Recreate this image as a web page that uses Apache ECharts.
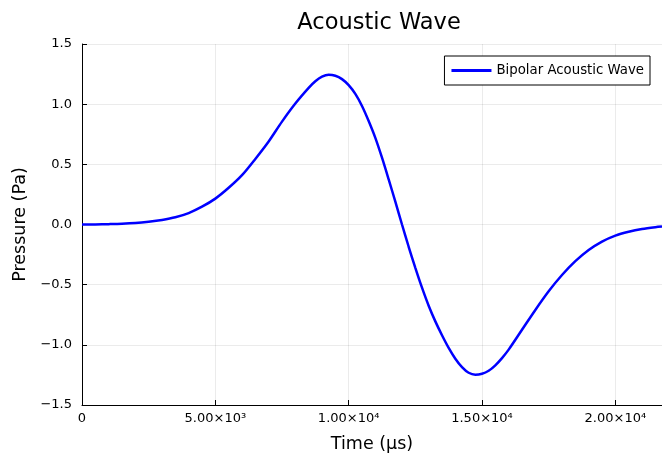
<!DOCTYPE html>
<html>
<head>
<meta charset="utf-8">
<script src="https://cdn.jsdelivr.net/npm/echarts@6/dist/echarts.min.js"></script>
<style>
html,body{margin:0;padding:0;background:#fff;}
#chart{width:662px;height:455px;}
</style>
</head>
<body>
<div id="chart"></div>
<script>
// Time (µs) samples
var times = [0, 500, 1000, 1500, 2000, 2500, 3000, 3500, 4000, 4500, 5000, 5500, 6000, 6500, 7000, 7500, 8000, 8500, 8750, 9000, 9250, 9500, 9750, 10000, 10250, 10500, 10750, 11000, 11250, 11500, 11750, 12000, 12250, 12500, 12750, 13000, 13250, 13500, 13750, 14000, 14250, 14500, 14750, 15000, 15250, 15500, 15750, 16000, 16500, 17000, 17500, 18000, 18500, 19000, 19500, 20000, 20500, 21000, 21500, 21750];
// Pressure (Pa) values
var pressure = [0, 0.001, 0.003, 0.006, 0.012, 0.023, 0.038, 0.06, 0.095, 0.148, 0.215, 0.305, 0.41, 0.545, 0.69, 0.855, 1.005, 1.135, 1.19, 1.228, 1.244, 1.236, 1.208, 1.158, 1.085, 0.985, 0.86, 0.72, 0.555, 0.375, 0.19, 0.0, -0.185, -0.36, -0.525, -0.675, -0.805, -0.92, -1.025, -1.115, -1.185, -1.232, -1.248, -1.24, -1.215, -1.17, -1.11, -1.04, -0.875, -0.71, -0.555, -0.42, -0.305, -0.212, -0.142, -0.092, -0.06, -0.037, -0.022, -0.017];
var xTickLabels = {0: '0', 5000: '5.00×10³', 10000: '1.00×10⁴', 15000: '1.50×10⁴', 20000: '2.00×10⁴'};
var seriesName = 'Bipolar Acoustic Wave';

var data = times.map(function (t, i) { return [t, pressure[i]]; });
var font = 'DejaVu Sans';
var chart = echarts.init(document.getElementById('chart'));
chart.setOption({
  animation: false,
  backgroundColor: '#fff',
  title: {
    text: 'Acoustic Wave',
    left: 374, top: 7,
    textAlign: 'center',
    textStyle: {fontFamily: font, fontSize: 22.5, fontWeight: 'normal', color: '#000'}
  },
  legend: {
    right: 12, top: 56,
    orient: 'vertical',
    borderColor: '#000', borderWidth: 1, borderRadius: 0,
    padding: [8, 6, 8, 7],
    backgroundColor: '#fff',
    itemWidth: 40, itemHeight: 3, itemGap: 0,
    icon: 'rect',
    textStyle: {fontFamily: font, fontSize: 13.3, color: '#000'},
    data: [seriesName]
  },
  grid: {left: 82, right: 0, top: 44, bottom: 50, containLabel: false, outerBoundsMode: 'none'},
  xAxis: {
    type: 'value', min: 0, max: 21750, interval: 5000,
    name: 'Time (µs)', nameLocation: 'middle', nameGap: 30,
    nameTextStyle: {fontFamily: font, fontSize: 17.5, color: '#000'},
    axisLine: {show: true, onZero: false, lineStyle: {color: '#000', width: 1}},
    axisTick: {show: true, inside: true, length: 5, lineStyle: {color: '#000'}},
    axisLabel: {
      fontFamily: font, fontSize: 13, color: '#000', margin: 7,
      showMaxLabel: false,
      formatter: function (v) { return xTickLabels[v] !== undefined ? xTickLabels[v] : ''; }
    },
    splitLine: {show: true, lineStyle: {color: 'rgba(0,0,0,0.08)', width: 1}}
  },
  yAxis: {
    type: 'value', min: -1.5, max: 1.5, interval: 0.5,
    name: 'Pressure (Pa)', nameLocation: 'middle', nameGap: 46,
    nameTextStyle: {fontFamily: font, fontSize: 17.5, color: '#000'},
    axisLine: {show: true, onZero: false, lineStyle: {color: '#000', width: 1}},
    axisTick: {show: true, inside: true, length: 5, lineStyle: {color: '#000'}},
    axisLabel: {
      fontFamily: font, fontSize: 13, color: '#000', margin: 10,
      formatter: function (v) { return v.toFixed(1).replace('-', '−'); }
    },
    splitLine: {show: true, lineStyle: {color: 'rgba(0,0,0,0.08)', width: 1}}
  },
  series: [{
    name: seriesName,
    type: 'line',
    data: data,
    smooth: 0.3,
    showSymbol: false,
    symbol: 'none',
    clip: true,
    lineStyle: {color: '#0000ff', width: 2.5},
    itemStyle: {color: '#0000ff'}
  }]
});
</script>
</body>
</html>
